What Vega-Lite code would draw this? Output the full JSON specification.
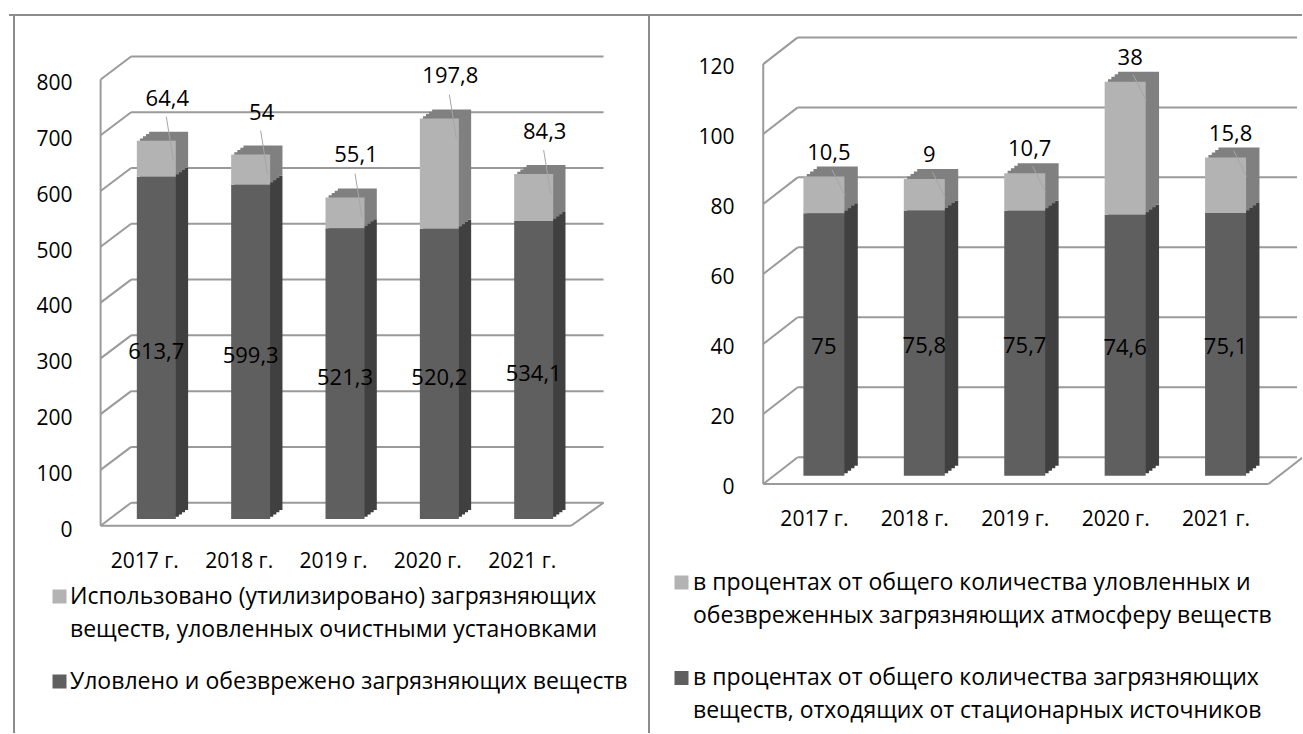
{
  "$schema": "https://vega.github.io/schema/vega-lite/v6.json",
  "padding": {"left": 8, "top": 14, "right": 0, "bottom": 0},
  "spacing": 0,
  "bounds": "flush",
  "resolve": {
    "scale": {"x": "independent", "y": "independent", "color": "independent"},
    "legend": {"color": "independent"},
    "axis": {"x": "independent", "y": "independent"}
  },
  "config": {
    "font": "Open Sans",
    "view": {"stroke": null},
    "axis": {"domain": false, "ticks": false, "grid": false, "labelFontSize": 21, "labelColor": "#000000", "labelFont": "Open Sans", "labelFlush": false, "labelOverlap": false, "title": null},
    "locale": {"number": {"decimal": ",", "thousands": " ", "grouping": [3], "currency": ["", ""]}},
    "style": {"guide-label": {"lineHeight": 33}}
  },
  "hconcat": [
    {
      "width": 635,
      "height": 718,
      "data": {"values": [
        {"year": 2017, "series": "Уловлено и обезврежено загрязняющих веществ", "value": 613.7},
        {"year": 2018, "series": "Уловлено и обезврежено загрязняющих веществ", "value": 599.3},
        {"year": 2019, "series": "Уловлено и обезврежено загрязняющих веществ", "value": 521.3},
        {"year": 2020, "series": "Уловлено и обезврежено загрязняющих веществ", "value": 520.2},
        {"year": 2021, "series": "Уловлено и обезврежено загрязняющих веществ", "value": 534.1},
        {"year": 2017, "series": "Использовано (утилизировано) загрязняющих веществ, уловленных очистными установками", "value": 64.4},
        {"year": 2018, "series": "Использовано (утилизировано) загрязняющих веществ, уловленных очистными установками", "value": 54},
        {"year": 2019, "series": "Использовано (утилизировано) загрязняющих веществ, уловленных очистными установками", "value": 55.1},
        {"year": 2020, "series": "Использовано (утилизировано) загрязняющих веществ, уловленных очистными установками", "value": 197.8},
        {"year": 2021, "series": "Использовано (утилизировано) загрязняющих веществ, уловленных очистными установками", "value": 84.3}
      ]},
      "layer": [
        {
          "mark": {"type": "bar", "size": 39},
          "encoding": {
            "x": {"field": "year", "type": "quantitative", "title": null,
              "scale": {"domain": [2015.4914, 2022.1163], "nice": false, "zero": false},
              "axis": {"values": [2017, 2018, 2019, 2020, 2021], "labelExpr": "datum.value + ' г.'", "offset": -208.3, "labelPadding": 25.4, "labelOffset": -12}},
            "y": {"field": "value", "type": "quantitative", "stack": "zero", "title": null,
              "scale": {"domain": [-383.65, 903.55], "nice": false, "zero": false},
              "axis": {"values": [0, 100, 200, 300, 400, 500, 600, 700, 800], "offset": -88, "labelPadding": 25, "labelOffset": 11}},
            "color": {"field": "series", "type": "nominal",
              "scale": {"domain": ["Использовано (утилизировано) загрязняющих веществ, уловленных очистными установками", "Уловлено и обезврежено загрязняющих веществ"], "range": ["#b3b3b3", "#5f5f5f"]},
              "legend": {"orient": "none", "legendX": 39, "legendY": 570, "title": null, "direction": "vertical", "symbolType": "square", "symbolSize": 196, "symbolStrokeWidth": 0, "labelFontSize": 23, "labelColor": "#000000", "labelFont": "Open Sans", "labelLimit": 800, "labelOffset": -1, "rowPadding": 28, "padding": 0,
                "labelExpr": "datum.label === 'Использовано (утилизировано) загрязняющих веществ, уловленных очистными установками' ? ['Использовано (утилизировано) загрязняющих', 'веществ, уловленных очистными установками'] : datum.label"}},
            "order": {"field": "series", "type": "ordinal", "sort": "descending"},
            "opacity": {"value": 0}
          }
        },
        {
          "data": {"values": [{}]},
          "mark": {"type": "rule", "color": "#8c8c8c", "strokeWidth": 2},
          "encoding": {
            "y": {"datum": 903.55, "type": "quantitative", "title": null}
          }
        },
        {
          "data": {"values": [{}]},
          "mark": {"type": "rule", "color": "#8c8c8c", "strokeWidth": 2},
          "encoding": {
            "x": {"datum": 2015.4914, "type": "quantitative", "title": null}
          }
        },
        {
          "data": {"values": [{"v": 0}, {"v": 100}, {"v": 200}, {"v": 300}, {"v": 400}, {"v": 500}, {"v": 600}, {"v": 700}, {"v": 800}]},
          "mark": {"type": "rule", "color": "#9a9a9a", "strokeWidth": 2, "yOffset": -16.3},
          "encoding": {
            "x": {"datum": 2016.7329, "type": "quantitative", "title": null},
            "x2": {"datum": 2021.7407},
            "y": {"field": "v", "type": "quantitative", "title": null}
          }
        },
        {
          "data": {"values": [{"v": 0}, {"v": 100}, {"v": 200}, {"v": 300}, {"v": 400}, {"v": 500}, {"v": 600}, {"v": 700}, {"v": 800}]},
          "mark": {"type": "rule", "color": "#9a9a9a", "strokeWidth": 2, "yOffset": 6.7, "y2Offset": -16.3},
          "encoding": {
            "x": {"datum": 2016.4095, "type": "quantitative", "title": null},
            "x2": {"datum": 2016.7329},
            "y": {"field": "v", "type": "quantitative", "title": null},
            "y2": {"field": "v"}
          }
        },
        {
          "data": {"values": [{}]},
          "mark": {"type": "rule", "color": "#9a9a9a", "strokeWidth": 2, "yOffset": 6.7, "y2Offset": 6.7},
          "encoding": {
            "x": {"datum": 2016.4095, "type": "quantitative", "title": null},
            "y": {"datum": 0, "type": "quantitative", "title": null},
            "y2": {"datum": 800}
          }
        },
        {
          "data": {"values": [{}]},
          "mark": {"type": "rule", "color": "#9a9a9a", "strokeWidth": 2, "yOffset": 6.7},
          "encoding": {
            "x": {"datum": 2016.4095, "type": "quantitative", "title": null},
            "x2": {"datum": 2021.3964},
            "y": {"datum": 0, "type": "quantitative", "title": null}
          }
        },
        {
          "data": {"values": [{}]},
          "mark": {"type": "rule", "color": "#9a9a9a", "strokeWidth": 2, "yOffset": 6.7, "y2Offset": -16.3},
          "encoding": {
            "x": {"datum": 2021.3964, "type": "quantitative", "title": null},
            "x2": {"datum": 2021.7407},
            "y": {"datum": 0, "type": "quantitative", "title": null},
            "y2": {"datum": 0}
          }
        },
        {
          "mark": {"type": "bar", "size": 39, "xOffset": 12.3, "yOffset": -9, "y2Offset": -9},
          "encoding": {
            "x": {"field": "year", "type": "quantitative", "title": null},
            "y": {"field": "value", "type": "quantitative", "stack": "zero", "title": null},
            "detail": {"field": "series"},
            "order": {"field": "series", "type": "ordinal", "sort": "descending"},
            "fill": {"condition": {"test": "datum.series === 'Уловлено и обезврежено загрязняющих веществ'", "value": "#404040"}, "value": "#808080"}
          }
        },
        {
          "mark": {"type": "bar", "size": 39, "xOffset": 9.2, "yOffset": -6.75, "y2Offset": -6.75},
          "encoding": {
            "x": {"field": "year", "type": "quantitative", "title": null},
            "y": {"field": "value", "type": "quantitative", "stack": "zero", "title": null},
            "detail": {"field": "series"},
            "order": {"field": "series", "type": "ordinal", "sort": "descending"},
            "fill": {"condition": {"test": "datum.series === 'Уловлено и обезврежено загрязняющих веществ'", "value": "#404040"}, "value": "#808080"}
          }
        },
        {
          "mark": {"type": "bar", "size": 39, "xOffset": 6.15, "yOffset": -4.5, "y2Offset": -4.5},
          "encoding": {
            "x": {"field": "year", "type": "quantitative", "title": null},
            "y": {"field": "value", "type": "quantitative", "stack": "zero", "title": null},
            "detail": {"field": "series"},
            "order": {"field": "series", "type": "ordinal", "sort": "descending"},
            "fill": {"condition": {"test": "datum.series === 'Уловлено и обезврежено загрязняющих веществ'", "value": "#404040"}, "value": "#808080"}
          }
        },
        {
          "mark": {"type": "bar", "size": 39, "xOffset": 3.1, "yOffset": -2.25, "y2Offset": -2.25},
          "encoding": {
            "x": {"field": "year", "type": "quantitative", "title": null},
            "y": {"field": "value", "type": "quantitative", "stack": "zero", "title": null},
            "detail": {"field": "series"},
            "order": {"field": "series", "type": "ordinal", "sort": "descending"},
            "fill": {"condition": {"test": "datum.series === 'Уловлено и обезврежено загрязняющих веществ'", "value": "#404040"}, "value": "#808080"}
          }
        },
        {
          "mark": {"type": "bar", "size": 39},
          "encoding": {
            "x": {"field": "year", "type": "quantitative", "title": null},
            "y": {"field": "value", "type": "quantitative", "stack": "zero", "title": null},
            "fill": {"field": "series", "type": "nominal", "legend": null,
              "scale": {"domain": ["Использовано (утилизировано) загрязняющих веществ, уловленных очистными установками", "Уловлено и обезврежено загрязняющих веществ"], "range": ["#b3b3b3", "#5f5f5f"]}},
            "order": {"field": "series", "type": "ordinal", "sort": "descending"}
          }
        },
        {
          "transform": [
            {"joinaggregate": [{"op": "sum", "field": "value", "as": "total"}], "groupby": ["year"]},
            {"filter": "datum.series === 'Использовано (утилизировано) загрязняющих веществ, уловленных очистными установками'"}
          ],
          "mark": {"type": "rule", "color": "#a6a6a6", "strokeWidth": 1, "xOffset": 10, "x2Offset": 17, "yOffset": -24, "y2Offset": 20},
          "encoding": {
            "x": {"field": "year", "type": "quantitative", "title": null},
            "x2": {"field": "year"},
            "y": {"field": "total", "type": "quantitative", "title": null},
            "y2": {"field": "total"}
          }
        },
        {
          "transform": [
            {"joinaggregate": [{"op": "sum", "field": "value", "as": "total"}], "groupby": ["year"]},
            {"filter": "datum.series === 'Использовано (утилизировано) загрязняющих веществ, уловленных очистными установками'"}
          ],
          "mark": {"type": "text", "fontSize": 22, "color": "#000000", "xOffset": 11, "yOffset": -42},
          "encoding": {
            "x": {"field": "year", "type": "quantitative", "title": null},
            "y": {"field": "total", "type": "quantitative", "title": null},
            "text": {"field": "value", "type": "quantitative", "format": ".1~f"}
          }
        },
        {
          "transform": [
            {"filter": "datum.series === 'Уловлено и обезврежено загрязняющих веществ'"},
            {"calculate": "datum.value / 2", "as": "mid"}
          ],
          "mark": {"type": "text", "fontSize": 22, "color": "#000000", "yOffset": 4},
          "encoding": {
            "x": {"field": "year", "type": "quantitative", "title": null},
            "y": {"field": "mid", "type": "quantitative", "title": null},
            "text": {"field": "value", "type": "quantitative", "format": ".1~f"}
          }
        }
      ]
    },
    {
      "width": 658,
      "height": 718,
      "data": {"values": [
        {"year": 2017, "series": "в процентах от общего количества загрязняющих веществ, отходящих от стационарных источников", "value": 75},
        {"year": 2018, "series": "в процентах от общего количества загрязняющих веществ, отходящих от стационарных источников", "value": 75.8},
        {"year": 2019, "series": "в процентах от общего количества загрязняющих веществ, отходящих от стационарных источников", "value": 75.7},
        {"year": 2020, "series": "в процентах от общего количества загрязняющих веществ, отходящих от стационарных источников", "value": 74.6},
        {"year": 2021, "series": "в процентах от общего количества загрязняющих веществ, отходящих от стационарных источников", "value": 75.1},
        {"year": 2017, "series": "в процентах от общего количества уловленных и обезвреженных загрязняющих атмосферу веществ", "value": 10.5},
        {"year": 2018, "series": "в процентах от общего количества уловленных и обезвреженных загрязняющих атмосферу веществ", "value": 9},
        {"year": 2019, "series": "в процентах от общего количества уловленных и обезвреженных загрязняющих атмосферу веществ", "value": 10.7},
        {"year": 2020, "series": "в процентах от общего количества уловленных и обезвреженных загрязняющих атмосферу веществ", "value": 38},
        {"year": 2021, "series": "в процентах от общего количества уловленных и обезвреженных загрязняющих атмосферу веществ", "value": 15.8}
      ]},
      "layer": [
        {
          "mark": {"type": "bar", "size": 41},
          "encoding": {
            "x": {"field": "year", "type": "quantitative", "title": null,
              "scale": {"domain": [2015.2583, 2021.7112], "nice": false, "zero": false},
              "axis": {"values": [2017, 2018, 2019, 2020, 2021], "labelExpr": "datum.value + ' г.'", "offset": -249, "labelPadding": 24.4, "labelOffset": -10}},
            "y": {"field": "value", "type": "quantitative", "stack": "zero", "title": null,
              "scale": {"domain": [-73.54, 131.66], "nice": false, "zero": false},
              "axis": {"values": [0, 20, 40, 60, 80, 100, 120], "offset": -116, "labelPadding": 26, "labelOffset": 12}},
            "color": {"field": "series", "type": "nominal",
              "scale": {"domain": ["в процентах от общего количества уловленных и обезвреженных загрязняющих атмосферу веществ", "в процентах от общего количества загрязняющих веществ, отходящих от стационарных источников"], "range": ["#b3b3b3", "#5f5f5f"]},
              "legend": {"orient": "none", "legendX": 26, "legendY": 556, "title": null, "direction": "vertical", "symbolType": "square", "symbolSize": 196, "symbolStrokeWidth": 0, "labelFontSize": 23, "labelColor": "#000000", "labelFont": "Open Sans", "labelLimit": 800, "labelOffset": 0, "rowPadding": 38.5, "padding": 0,
                "labelExpr": "datum.label === 'в процентах от общего количества уловленных и обезвреженных загрязняющих атмосферу веществ' ? ['в процентах от общего количества уловленных и', 'обезвреженных загрязняющих атмосферу веществ'] : ['в процентах от общего количества загрязняющих', 'веществ, отходящих от стационарных источников']"}},
            "order": {"field": "series", "type": "ordinal", "sort": "ascending"},
            "opacity": {"value": 0}
          }
        },
        {
          "data": {"values": [{}]},
          "mark": {"type": "rule", "color": "#8c8c8c", "strokeWidth": 2},
          "encoding": {
            "y": {"datum": 131.66, "type": "quantitative", "title": null}
          }
        },
        {
          "data": {"values": [{}]},
          "mark": {"type": "rule", "color": "#8c8c8c", "strokeWidth": 2},
          "encoding": {
            "x": {"datum": 2015.2583, "type": "quantitative", "title": null}
          }
        },
        {
          "data": {"values": [{"v": 0}, {"v": 20}, {"v": 40}, {"v": 60}, {"v": 80}, {"v": 100}, {"v": 120}]},
          "mark": {"type": "rule", "color": "#9a9a9a", "strokeWidth": 2, "yOffset": -18.4},
          "encoding": {
            "x": {"datum": 2016.7391, "type": "quantitative", "title": null},
            "x2": {"datum": 2021.7112},
            "y": {"field": "v", "type": "quantitative", "title": null}
          }
        },
        {
          "data": {"values": [{"v": 0}, {"v": 20}, {"v": 40}, {"v": 60}, {"v": 80}, {"v": 100}, {"v": 120}]},
          "mark": {"type": "rule", "color": "#9a9a9a", "strokeWidth": 2, "yOffset": 8.3, "y2Offset": -18.4},
          "encoding": {
            "x": {"datum": 2016.3959, "type": "quantitative", "title": null},
            "x2": {"datum": 2016.7391},
            "y": {"field": "v", "type": "quantitative", "title": null},
            "y2": {"field": "v"}
          }
        },
        {
          "data": {"values": [{}]},
          "mark": {"type": "rule", "color": "#9a9a9a", "strokeWidth": 2, "yOffset": 8.3, "y2Offset": 8.3},
          "encoding": {
            "x": {"datum": 2016.3959, "type": "quantitative", "title": null},
            "y": {"datum": 0, "type": "quantitative", "title": null},
            "y2": {"datum": 120}
          }
        },
        {
          "data": {"values": [{}]},
          "mark": {"type": "rule", "color": "#9a9a9a", "strokeWidth": 2, "yOffset": 8.3},
          "encoding": {
            "x": {"datum": 2016.3959, "type": "quantitative", "title": null},
            "x2": {"datum": 2021.4268},
            "y": {"datum": 0, "type": "quantitative", "title": null}
          }
        },
        {
          "data": {"values": [{}]},
          "mark": {"type": "rule", "color": "#9a9a9a", "strokeWidth": 2, "yOffset": 8.3, "y2Offset": -18.4, "clip": true},
          "encoding": {
            "x": {"datum": 2021.4268, "type": "quantitative", "title": null},
            "x2": {"datum": 2021.77},
            "y": {"datum": 0, "type": "quantitative", "title": null},
            "y2": {"datum": 0}
          }
        },
        {
          "mark": {"type": "bar", "size": 41, "xOffset": 13.4, "yOffset": -10, "y2Offset": -10},
          "encoding": {
            "x": {"field": "year", "type": "quantitative", "title": null},
            "y": {"field": "value", "type": "quantitative", "stack": "zero", "title": null},
            "detail": {"field": "series"},
            "order": {"field": "series", "type": "ordinal", "sort": "ascending"},
            "fill": {"condition": {"test": "datum.series === 'в процентах от общего количества загрязняющих веществ, отходящих от стационарных источников'", "value": "#404040"}, "value": "#808080"}
          }
        },
        {
          "mark": {"type": "bar", "size": 41, "xOffset": 10.05, "yOffset": -7.5, "y2Offset": -7.5},
          "encoding": {
            "x": {"field": "year", "type": "quantitative", "title": null},
            "y": {"field": "value", "type": "quantitative", "stack": "zero", "title": null},
            "detail": {"field": "series"},
            "order": {"field": "series", "type": "ordinal", "sort": "ascending"},
            "fill": {"condition": {"test": "datum.series === 'в процентах от общего количества загрязняющих веществ, отходящих от стационарных источников'", "value": "#404040"}, "value": "#808080"}
          }
        },
        {
          "mark": {"type": "bar", "size": 41, "xOffset": 6.7, "yOffset": -5, "y2Offset": -5},
          "encoding": {
            "x": {"field": "year", "type": "quantitative", "title": null},
            "y": {"field": "value", "type": "quantitative", "stack": "zero", "title": null},
            "detail": {"field": "series"},
            "order": {"field": "series", "type": "ordinal", "sort": "ascending"},
            "fill": {"condition": {"test": "datum.series === 'в процентах от общего количества загрязняющих веществ, отходящих от стационарных источников'", "value": "#404040"}, "value": "#808080"}
          }
        },
        {
          "mark": {"type": "bar", "size": 41, "xOffset": 3.35, "yOffset": -2.5, "y2Offset": -2.5},
          "encoding": {
            "x": {"field": "year", "type": "quantitative", "title": null},
            "y": {"field": "value", "type": "quantitative", "stack": "zero", "title": null},
            "detail": {"field": "series"},
            "order": {"field": "series", "type": "ordinal", "sort": "ascending"},
            "fill": {"condition": {"test": "datum.series === 'в процентах от общего количества загрязняющих веществ, отходящих от стационарных источников'", "value": "#404040"}, "value": "#808080"}
          }
        },
        {
          "mark": {"type": "bar", "size": 41},
          "encoding": {
            "x": {"field": "year", "type": "quantitative", "title": null},
            "y": {"field": "value", "type": "quantitative", "stack": "zero", "title": null},
            "fill": {"field": "series", "type": "nominal", "legend": null,
              "scale": {"domain": ["в процентах от общего количества уловленных и обезвреженных загрязняющих атмосферу веществ", "в процентах от общего количества загрязняющих веществ, отходящих от стационарных источников"], "range": ["#b3b3b3", "#5f5f5f"]}},
            "order": {"field": "series", "type": "ordinal", "sort": "ascending"}
          }
        },
        {
          "transform": [
            {"joinaggregate": [{"op": "sum", "field": "value", "as": "total"}], "groupby": ["year"]},
            {"filter": "datum.series === 'в процентах от общего количества уловленных и обезвреженных загрязняющих атмосферу веществ'"}
          ],
          "mark": {"type": "rule", "color": "#a6a6a6", "strokeWidth": 1, "xOffset": 8, "x2Offset": 21, "yOffset": -7, "y2Offset": 19},
          "encoding": {
            "x": {"field": "year", "type": "quantitative", "title": null},
            "x2": {"field": "year"},
            "y": {"field": "total", "type": "quantitative", "title": null},
            "y2": {"field": "total"}
          }
        },
        {
          "transform": [
            {"joinaggregate": [{"op": "sum", "field": "value", "as": "total"}], "groupby": ["year"]},
            {"filter": "datum.series === 'в процентах от общего количества уловленных и обезвреженных загрязняющих атмосферу веществ'"}
          ],
          "mark": {"type": "text", "fontSize": 22, "color": "#000000", "xOffset": 5, "yOffset": -24},
          "encoding": {
            "x": {"field": "year", "type": "quantitative", "title": null},
            "y": {"field": "total", "type": "quantitative", "title": null},
            "text": {"field": "value", "type": "quantitative", "format": ".1~f"}
          }
        },
        {
          "transform": [
            {"filter": "datum.series === 'в процентах от общего количества загрязняющих веществ, отходящих от стационарных источников'"},
            {"calculate": "datum.value / 2", "as": "mid"}
          ],
          "mark": {"type": "text", "fontSize": 22, "color": "#000000", "yOffset": 3},
          "encoding": {
            "x": {"field": "year", "type": "quantitative", "title": null},
            "y": {"field": "mid", "type": "quantitative", "title": null},
            "text": {"field": "value", "type": "quantitative", "format": ".1~f"}
          }
        }
      ]
    }
  ]
}
